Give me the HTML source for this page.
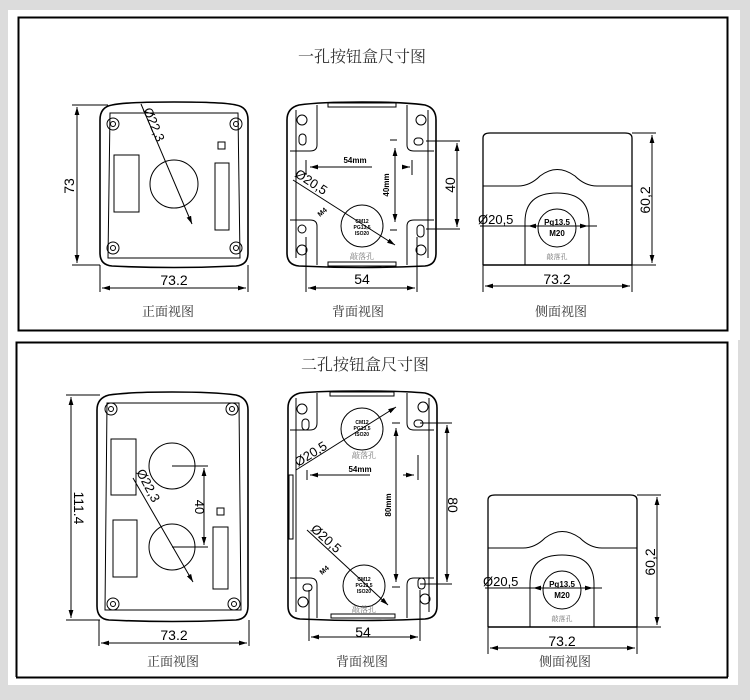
<!DOCTYPE html>
<html><head><meta charset="utf-8"><style>
html,body{margin:0;padding:0;background:#dcdcdc;width:750px;height:700px;overflow:hidden}
svg{display:block}
text{font-family:"Liberation Sans","Noto Sans CJK SC",sans-serif}
.cn{font-family:"Liberation Serif","Noto Serif CJK SC",serif;fill:#333}
</style></head><body>
<svg width="750" height="700" viewBox="0 0 750 700" xmlns="http://www.w3.org/2000/svg">
<defs>
<marker id="a" viewBox="0 0 10 6" refX="10" refY="3" markerWidth="8" markerHeight="5" orient="auto-start-reverse"><path d="M0,0L10,3L0,6z" fill="#000"/></marker>
</defs>
<rect x="8" y="10" width="732" height="330" fill="#fff"/>
<rect x="18.5" y="17.5" width="709" height="313" fill="none" stroke="#000" stroke-width="2"/>
<rect x="8" y="340" width="730" height="345" fill="#fff"/>
<path d="M16.5,677 V342.5 H727.5 V677 M16,677.5 H728" fill="none" stroke="#000" stroke-width="2"/>

<g stroke="#000" fill="none" stroke-width="1">
<!-- P1 FRONT -->
<path d="M112,105 Q125,102 174,102 Q224,102 236,105 Q248,107 248,120 V253 Q248,265 236,266 Q174,269 112,266 Q100,265 100,253 V120 Q100,107 112,105Z" stroke-width="1.6"/>
<path d="M110,113 H238 L240,258 H108Z"/>
<circle cx="113" cy="124" r="6"/><circle cx="113" cy="124" r="2.5"/>
<circle cx="236" cy="124" r="6"/><circle cx="236" cy="124" r="2.5"/>
<circle cx="113" cy="248" r="6"/><circle cx="113" cy="248" r="2.5"/>
<circle cx="236" cy="248" r="6"/><circle cx="236" cy="248" r="2.5"/>
<rect x="114" y="155" width="25" height="57"/>
<rect x="215" y="163" width="14" height="67"/>
<rect x="218" y="142" width="7" height="7"/>
<circle cx="174" cy="184" r="24"/>
<path d="M141,104 L192,224" marker-end="url(#a)"/>
<path d="M77,107 V263" marker-start="url(#a)" marker-end="url(#a)"/>
<path d="M72,105 H108 M72,265 H100"/>
<path d="M100,265 V292 M248,265 V292"/>
<path d="M102,288 H246" marker-start="url(#a)" marker-end="url(#a)"/>

<!-- P1 BACK -->
<path d="M299,105 Q320,102 362,102 Q404,102 425,105 Q436,108 436,120 V253 Q436,265 425,266 Q362,269 299,266 Q287,265 287,253 V120 Q287,108 299,105Z" stroke-width="1.6"/>
<path d="M296,110 V258 M428,110 V258"/>
<path d="M317,105 V145 Q317,151 310,151 H290 M407,105 V145 Q407,151 414,151 H434 M317,265 V226 Q317,220 310,220 H290 M407,265 V226 Q407,220 414,220 H434"/>
<rect x="328" y="103" width="68" height="4"/><rect x="328" y="262" width="68" height="4"/>
<circle cx="302" cy="120" r="5"/><rect x="299" y="134" width="7" height="11" rx="3.5"/>
<circle cx="421" cy="120" r="5"/><rect x="414" y="138" width="9" height="7" rx="3.5"/>
<circle cx="302" cy="250" r="5"/><rect x="298" y="225" width="8" height="8" rx="4"/>
<circle cx="421" cy="250" r="5"/><rect x="417" y="225" width="7" height="12" rx="3.5"/>
<path d="M306,160 V175 M412,160 V175 M390,140 H397 M390,230 H397"/>
<path d="M310,167 H372" marker-start="url(#a)"/>
<path d="M403,167 H410" marker-end="url(#a)"/>
<path d="M395,148 V222" marker-start="url(#a)" marker-end="url(#a)"/>
<circle cx="362" cy="226" r="21"/>
<path d="M293,180 L395,245" marker-end="url(#a)"/>
<path d="M426,141 H460 M426,229 H460 M306,237 V292 M417,237 V292"/>
<path d="M457,143 V227" marker-start="url(#a)" marker-end="url(#a)"/>
<path d="M308,288 H415" marker-start="url(#a)" marker-end="url(#a)"/>

<!-- P1 SIDE -->
<g id="side" stroke="#000" fill="none" stroke-width="1">
<path d="M483,265 V138 Q483,133 490,133 H625 Q632,133 632,138 V265" stroke-width="1.3"/>
<path d="M483,265 H632" stroke-width="1.6"/>
<path d="M483,186 H518 Q530,186 540,176 Q557,163 575,176 Q585,186 597,186 H632"/>
<path d="M525,265 V222 Q525,193 557,193 Q589,193 589,222 V265"/>
<circle cx="557" cy="228" r="19"/>
<path d="M480,226 H597"/>
<path d="M528,226 H538" marker-start="url(#a)"/>
<path d="M578,226 H588" marker-end="url(#a)"/>
<path d="M632,133 H656 M632,265 H656 M483,265 V292 M632,265 V292"/>
<path d="M652,135 V263" marker-start="url(#a)" marker-end="url(#a)"/>
<path d="M485,286 H630" marker-start="url(#a)" marker-end="url(#a)"/>
</g>

<!-- P2 FRONT -->
<path d="M109,395 Q130,392 172,392 Q214,392 236,395 Q248,398 248,410 V606 Q248,619 236,620 Q172,623 109,620 Q97,619 97,606 V410 Q97,398 109,395Z" stroke-width="1.6"/>
<path d="M107,403 H239 L241,610 H105Z"/>
<circle cx="111" cy="409" r="6"/><circle cx="111" cy="409" r="2.5"/>
<circle cx="232" cy="409" r="6"/><circle cx="232" cy="409" r="2.5"/>
<circle cx="113" cy="604" r="6"/><circle cx="113" cy="604" r="2.5"/>
<circle cx="234" cy="604" r="6"/><circle cx="234" cy="604" r="2.5"/>
<rect x="111" y="439" width="25" height="56"/>
<rect x="113" y="520" width="24" height="57"/>
<rect x="213" y="527" width="15" height="62"/>
<rect x="217" y="508" width="7" height="7"/>
<circle cx="172" cy="466" r="23"/>
<circle cx="172" cy="547" r="23"/>
<path d="M172,466 H208 M172,547 H208"/>
<path d="M204,468 V545" marker-start="url(#a)" marker-end="url(#a)"/>
<path d="M133,478 L193,582" marker-end="url(#a)"/>
<path d="M66,395 H100 M66,620 H100"/>
<path d="M71,397 V618" marker-start="url(#a)" marker-end="url(#a)"/>
<path d="M99,620 V646 M249,620 V646"/>
<path d="M101,643 H247" marker-start="url(#a)" marker-end="url(#a)"/>

<!-- P2 BACK -->
<path d="M300,393 Q320,391 362,391 Q404,391 425,393 Q437,396 437,408 V606 Q437,618 425,619 Q362,622 300,619 Q288,618 288,606 V408 Q288,396 300,393Z" stroke-width="1.6"/>
<path d="M296,398 V612 M429,398 V612"/>
<rect x="289" y="475" width="4" height="64"/>
<path d="M317,393 V423 Q317,430 310,430 H290 M407,393 V423 Q407,430 414,430 H434 M317,618 V585 Q317,578 310,578 H290 M407,618 V585 Q407,578 414,578 H434"/>
<rect x="330" y="392" width="64" height="4"/><rect x="331" y="614" width="64" height="4"/>
<circle cx="302" cy="409" r="5"/><rect x="302" y="419" width="7" height="11" rx="3.5"/>
<circle cx="423" cy="407" r="5"/><rect x="414" y="420" width="9" height="7" rx="3.5"/>
<circle cx="303" cy="602" r="5"/><rect x="303" y="584" width="9" height="7" rx="3.5"/>
<circle cx="425" cy="599" r="5"/><rect x="418" y="578" width="7" height="11" rx="3.5"/>
<circle cx="362" cy="429" r="21"/>
<circle cx="364" cy="586" r="21"/>
<path d="M296,470 L396,407" marker-end="url(#a)"/>
<path d="M307,530 L388,605" marker-end="url(#a)"/>
<path d="M307,470 V480 M418,455 V480 M392,423 H400 M392,587 H400"/>
<path d="M310,475 H370" marker-start="url(#a)"/>
<path d="M403,475 H414" marker-end="url(#a)"/>
<path d="M396,428 V582" marker-start="url(#a)" marker-end="url(#a)"/>
<path d="M420,423 H452 M420,584 H452 M309,590 V641 M420,590 V641"/>
<path d="M447,425 V582" marker-start="url(#a)" marker-end="url(#a)"/>
<path d="M311,637 H418" marker-start="url(#a)" marker-end="url(#a)"/>
</g>

<use href="#side" transform="translate(5,362)"/>

<!-- TEXT -->
<text x="362" y="62" font-size="16" text-anchor="middle" class="cn">一孔按钮盒尺寸图</text>
<text x="365" y="370" font-size="16" text-anchor="middle" class="cn">二孔按钮盒尺寸图</text>

<text x="168" y="316" font-size="13" text-anchor="middle" class="cn">正面视图</text>
<text x="358" y="316" font-size="13" text-anchor="middle" class="cn">背面视图</text>
<text x="561" y="316" font-size="13" text-anchor="middle" class="cn">侧面视图</text>
<text x="173" y="666" font-size="13" text-anchor="middle" class="cn">正面视图</text>
<text x="362" y="666" font-size="13" text-anchor="middle" class="cn">背面视图</text>
<text x="565" y="666" font-size="13" text-anchor="middle" class="cn">侧面视图</text>

<text x="174" y="285" font-size="14" text-anchor="middle">73.2</text>
<text transform="translate(74,186) rotate(-90)" font-size="14" text-anchor="middle">73</text>
<text transform="translate(143,110) rotate(67)" font-size="13">Ø22,3</text>
<text x="362" y="284" font-size="14" text-anchor="middle">54</text>
<text transform="translate(455,185) rotate(-90)" font-size="14" text-anchor="middle">40</text>
<text x="355" y="163" font-size="8" font-weight="bold" text-anchor="middle">54mm</text>
<text transform="translate(389,185) rotate(-90)" font-size="8" font-weight="bold" text-anchor="middle">40mm</text>
<text transform="translate(294,176) rotate(33)" font-size="13">Ø20,5</text>
<text transform="translate(320,217) rotate(-40)" font-size="7" font-weight="bold">M4</text>
<text x="362" y="223" font-size="5" font-weight="bold" text-anchor="middle">CM12</text>
<text x="362" y="229" font-size="5" font-weight="bold" text-anchor="middle">PG13,5</text>
<text x="362" y="235" font-size="5" font-weight="bold" text-anchor="middle">ISO20</text>
<text x="362" y="259" font-size="8" text-anchor="middle" class="cn" style="fill:#777">敲落孔</text>
<text x="557" y="284" font-size="14" text-anchor="middle">73.2</text>
<text transform="translate(650,200) rotate(-90)" font-size="14" text-anchor="middle">60,2</text>
<text x="478" y="224" font-size="13">Ø20,5</text>
<text x="557" y="225" font-size="8" font-weight="bold" text-anchor="middle">Pg13.5</text>
<text x="557" y="236" font-size="8" font-weight="bold" text-anchor="middle">M20</text>
<text x="557" y="259" font-size="7" text-anchor="middle" class="cn" style="fill:#777">敲落孔</text>

<text x="174" y="640" font-size="14" text-anchor="middle">73.2</text>
<text transform="translate(74,508) rotate(90)" font-size="14" text-anchor="middle">111.4</text>
<text transform="translate(136,472) rotate(62)" font-size="13">Ø22,3</text>
<text transform="translate(195,507) rotate(90)" font-size="13" text-anchor="middle">40</text>
<text x="363" y="637" font-size="14" text-anchor="middle">54</text>
<text transform="translate(448,505) rotate(90)" font-size="14" text-anchor="middle">80</text>
<text x="360" y="472" font-size="8" font-weight="bold" text-anchor="middle">54mm</text>
<text transform="translate(391,505) rotate(-90)" font-size="8" font-weight="bold" text-anchor="middle">80mm</text>
<text transform="translate(298,467) rotate(-32)" font-size="13">Ø20,5</text>
<text transform="translate(310,530) rotate(42)" font-size="13">Ø20,5</text>
<text transform="translate(322,575) rotate(-40)" font-size="7" font-weight="bold">M4</text>
<text x="362" y="424" font-size="5" font-weight="bold" text-anchor="middle">CM12</text>
<text x="362" y="430" font-size="5" font-weight="bold" text-anchor="middle">PG13,5</text>
<text x="362" y="436" font-size="5" font-weight="bold" text-anchor="middle">ISO20</text>
<text x="364" y="458" font-size="8" text-anchor="middle" class="cn" style="fill:#777">敲落孔</text>
<text x="364" y="581" font-size="5" font-weight="bold" text-anchor="middle">CM12</text>
<text x="364" y="587" font-size="5" font-weight="bold" text-anchor="middle">PG13,5</text>
<text x="364" y="593" font-size="5" font-weight="bold" text-anchor="middle">ISO20</text>
<text x="364" y="612" font-size="8" text-anchor="middle" class="cn" style="fill:#777">敲落孔</text>

<text x="562" y="646" font-size="14" text-anchor="middle">73.2</text>
<text transform="translate(655,562) rotate(-90)" font-size="14" text-anchor="middle">60,2</text>
<text x="483" y="586" font-size="13">Ø20,5</text>
<text x="562" y="587" font-size="8" font-weight="bold" text-anchor="middle">Pg13.5</text>
<text x="562" y="598" font-size="8" font-weight="bold" text-anchor="middle">M20</text>
<text x="562" y="621" font-size="7" text-anchor="middle" class="cn" style="fill:#777">敲落孔</text>
</svg>
</body></html>
